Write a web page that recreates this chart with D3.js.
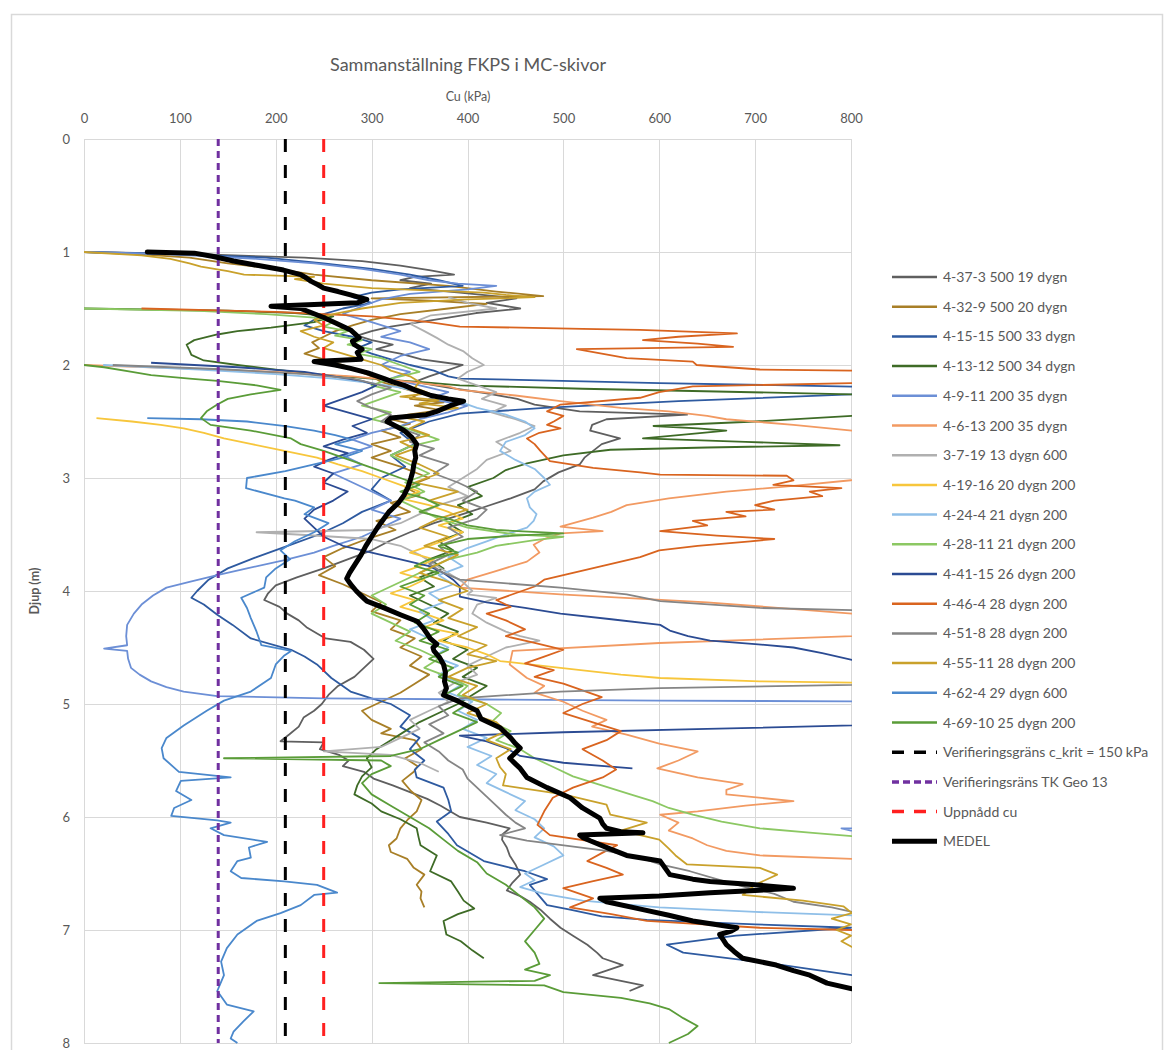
<!DOCTYPE html>
<html>
<head>
<meta charset="utf-8">
<script src="https://cdn.jsdelivr.net/npm/d3@7"></script>
<style>
  body { margin: 0; background: #fff; }
  svg { display: block; }
  text { font-family: Lato, "Open Sans", sans-serif; fill: #595959; }
</style>
</head>
<body>
<svg id="chart" width="1168" height="1050"></svg>
<script>
// ---- Axis ticks ----
const cuTicks = [0, 100, 200, 300, 400, 500, 600, 700, 800];
const depthTicks = [0, 1, 2, 3, 4, 5, 6, 7, 8];

// ---- FKPS soundings: [depth (m), Cu (kPa)] ----
const s4_37_3 = [[1.00,0],[1.02,120],[1.05,230],[1.08,290],[1.12,330],[1.16,360],[1.20,386],[1.22,345],[1.25,330],[1.28,362],[1.32,340],[1.36,392],[1.41,451],[1.45,420],[1.50,455],[1.54,409],[1.58,380],[1.62,350],[1.66,320],[1.70,300],[1.74,285],[1.78,300],[1.82,322],[1.86,305],[1.90,330],[1.95,352],[2.00,395],[2.05,378],[2.10,360],[2.15,345],[2.20,380],[2.25,420],[2.30,452],[2.35,470],[2.41,517],[2.44,629],[2.48,545],[2.53,530],[2.58,528],[2.65,559],[2.70,540],[2.76,531],[2.82,522],[2.88,517],[2.95,495],[3.03,479],[3.10,470],[3.18,445],[3.25,420],[3.32,395],[3.40,365],[3.48,340],[3.56,318],[3.64,300],[3.72,275],[3.80,250],[3.88,222],[3.95,200],[4.02,192],[4.08,188],[4.14,204],[4.20,212],[4.26,224],[4.32,232],[4.38,244],[4.42,252],[4.45,278],[4.52,292],[4.60,302],[4.68,292],[4.76,282],[4.84,265],[4.92,255],[5.00,248],[5.06,240],[5.12,229],[5.20,224],[5.27,214],[5.33,205],[5.34,250],[5.40,246],[5.45,266],[5.50,276],[5.55,270],[5.60,292],[5.66,302],[5.72,322],[5.78,340],[5.84,358],[5.90,372],[5.96,384],[6.00,392],[6.05,420],[6.10,444],[6.15,437],[6.20,436],[6.27,441],[6.34,444],[6.42,450],[6.51,455],[6.58,447],[6.65,441],[6.70,455],[6.75,465],[6.82,476],[6.90,486],[6.98,497],[7.05,510],[7.13,525],[7.20,535],[7.25,541],[7.31,562],[7.36,545],[7.40,531],[7.45,560],[7.49,583],[7.54,569]];

const s4_32_9 = [[1.00,0],[1.02,60],[1.05,110],[1.10,150],[1.15,200],[1.20,240],[1.25,300],[1.30,380],[1.35,430],[1.39,479],[1.41,300],[1.43,360],[1.46,420],[1.50,380],[1.55,330],[1.60,300],[1.65,280],[1.70,262],[1.75,250],[1.80,238],[1.85,245],[1.90,230],[1.95,250],[2.00,270],[2.05,285],[2.10,300],[2.15,310],[2.20,330],[2.25,350],[2.30,340],[2.33,375],[2.36,345],[2.40,372],[2.44,338],[2.48,320],[2.52,340],[2.58,310],[2.64,330],[2.70,300],[2.76,320],[2.82,300],[2.90,330],[3.00,360],[3.08,335],[3.15,350],[3.22,320],[3.30,340],[3.38,305],[3.46,325],[3.54,295],[3.62,270],[3.70,250],[3.78,262],[3.86,245],[3.94,270],[4.02,290],[4.10,310],[4.18,300],[4.26,330],[4.34,320],[4.42,345],[4.50,330],[4.58,352],[4.66,340],[4.74,360],[4.82,345],[4.90,330],[4.98,310],[5.06,290],[5.14,300],[5.22,320],[5.26,310],[5.32,345],[5.40,352],[5.48,335],[5.55,348],[5.60,344],[5.68,332],[5.77,341],[5.85,352],[5.95,347],[6.02,338],[6.10,330],[6.19,326],[6.25,318],[6.31,320],[6.37,337],[6.45,344],[6.51,355],[6.60,347],[6.66,352],[6.72,351],[6.80,355]];

const s4_15_15 = [[1.00,0],[1.02,100],[1.05,190],[1.10,250],[1.15,300],[1.20,340],[1.25,370],[1.30,395],[1.33,330],[1.36,300],[1.40,280],[1.45,300],[1.50,270],[1.55,250],[1.60,240],[1.65,230],[1.70,250],[1.75,280],[1.80,300],[1.85,285],[1.90,300],[1.95,320],[2.00,340],[2.05,365],[2.10,380],[2.12,392],[2.16,600],[2.20,860],[2.26,800],[2.32,620],[2.38,480],[2.43,392],[2.50,360],[2.60,330],[2.70,345],[2.80,320],[2.90,335],[3.00,310],[3.10,300],[3.20,320],[3.30,290],[3.40,270],[3.50,245],[3.59,216],[3.70,180],[3.80,150],[3.90,130],[4.00,118],[4.06,112],[4.12,125],[4.21,139],[4.30,155],[4.42,174],[4.52,216],[4.58,230],[4.65,243],[4.77,258],[4.89,278],[4.95,300],[5.00,320],[5.10,340],[5.20,330],[5.30,350],[5.40,340],[5.50,355],[5.58,345],[5.65,347],[5.74,375],[5.85,380],[5.95,383],[6.04,368],[6.15,380],[6.25,389],[6.39,417],[6.44,440],[6.48,460],[6.55,483],[6.60,465],[6.70,475],[6.78,483],[6.82,507],[6.88,540],[6.91,587],[6.95,700],[6.98,800],[7.05,680],[7.13,608],[7.20,625],[7.30,720],[7.40,801],[7.45,860]];

const s4_13_12 = [[1.50,0],[1.52,150],[1.54,220],[1.57,260],[1.62,240],[1.67,195],[1.70,160],[1.73,139],[1.78,115],[1.82,107],[1.87,110],[1.91,112],[1.96,125],[2.00,160],[2.04,200],[2.08,240],[2.12,300],[2.15,350],[2.18,392],[2.21,520],[2.23,635],[2.26,801],[2.30,880],[2.42,880],[2.45,801],[2.50,700],[2.54,594],[2.56,640],[2.58,670],[2.62,620],[2.65,583],[2.68,690],[2.71,788],[2.73,650],[2.75,549],[2.80,500],[2.87,462],[2.93,440],[3.00,427],[3.08,400],[3.16,415],[3.24,390],[3.32,405],[3.40,380],[3.48,395],[3.56,370],[3.64,385],[3.72,360],[3.80,375],[3.88,350],[3.96,365],[4.04,340],[4.12,360],[4.20,380],[4.28,365],[4.36,390],[4.44,375],[4.52,400],[4.60,385],[4.68,410],[4.76,395],[4.84,420],[4.92,405],[5.00,390],[5.08,370],[5.16,350],[5.24,335],[5.32,320],[5.40,305],[5.48,295],[5.56,300],[5.64,290],[5.72,285],[5.80,282],[5.88,300],[5.95,310],[6.02,330],[6.10,347],[6.18,349],[6.25,351],[6.34,368],[6.48,361],[6.57,383],[6.66,390],[6.74,396],[6.81,407],[6.86,390],[6.92,375],[7.04,378],[7.10,393],[7.18,405],[7.25,417]];

const s4_9_11 = [[1.00,0],[1.02,90],[1.06,180],[1.10,240],[1.15,290],[1.20,330],[1.25,360],[1.28,390],[1.30,430],[1.33,400],[1.37,340],[1.42,310],[1.48,290],[1.55,270],[1.62,300],[1.70,330],[1.75,310],[1.80,340],[1.86,360],[1.92,330],[2.00,310],[2.06,340],[2.12,320],[2.18,350],[2.24,380],[2.30,360],[2.36,400],[2.42,380],[2.48,350],[2.54,330],[2.60,300],[2.66,280],[2.72,300],[2.80,270],[2.88,290],[2.96,260],[3.04,280],[3.12,300],[3.20,320],[3.28,300],[3.36,330],[3.44,310],[3.52,290],[3.60,260],[3.66,240],[3.73,208],[3.80,170],[3.86,139],[3.92,110],[3.97,86],[4.04,72],[4.12,60],[4.20,52],[4.30,45],[4.40,44],[4.48,45],[4.51,21],[4.53,45],[4.60,46],[4.68,49],[4.74,58],[4.80,70],[4.85,86],[4.89,104],[4.93,139],[4.95,250],[4.96,417],[4.97,600],[4.98,900],[6.08,900],[6.10,790],[6.12,800],[6.14,900]];

const s4_6_13 = [[2.00,0],[2.03,100],[2.06,200],[2.10,280],[2.15,340],[2.19,380],[2.22,392],[2.27,450],[2.32,497],[2.38,560],[2.41,610],[2.45,650],[2.48,670],[2.53,740],[2.58,801],[2.62,880],[2.98,880],[3.02,800],[3.07,740],[3.12,670],[3.18,610],[3.24,566],[3.30,550],[3.35,531],[3.43,497],[3.47,541],[3.49,497],[3.54,480],[3.59,469],[3.66,475],[3.74,462],[3.83,427],[3.90,400],[3.97,392],[4.03,497],[4.10,650],[4.20,801],[4.25,880],[4.36,880],[4.40,801],[4.46,600],[4.53,447],[4.65,444],[4.77,462],[4.84,480],[4.90,470],[4.98,500],[5.06,520],[5.14,545],[5.20,530],[5.27,566],[5.35,600],[5.42,640],[5.50,620],[5.57,598],[5.65,640],[5.71,687],[5.76,670],[5.80,670],[5.86,740],[5.90,690],[5.95,640],[5.98,601],[6.05,620],[6.12,610],[6.19,635],[6.25,650],[6.30,670],[6.34,705],[6.37,801],[6.40,880]];

const s3_7_19 = [[1.40,380],[1.45,400],[1.50,430],[1.56,362],[1.60,350],[1.64,341],[1.70,355],[1.76,368],[1.82,380],[1.88,396],[1.94,405],[2.00,417],[2.06,400],[2.12,390],[2.18,410],[2.24,430],[2.30,415],[2.36,440],[2.42,425],[2.48,450],[2.54,470],[2.60,455],[2.68,430],[2.76,445],[2.84,420],[2.92,410],[3.00,395],[3.08,380],[3.16,400],[3.24,370],[3.32,350],[3.40,330],[3.46,300],[3.48,180],[3.50,222],[3.54,300],[3.60,330],[3.68,350],[3.76,365],[3.84,380],[3.92,395],[4.00,405],[4.03,400],[4.06,430],[4.12,410],[4.20,405],[4.28,420],[4.36,440],[4.40,455],[4.44,475],[4.50,440],[4.58,420],[4.66,400],[4.74,410],[4.82,385],[4.90,370],[4.98,380],[5.06,360],[5.14,340],[5.22,350],[5.30,330],[5.38,310],[5.42,250],[5.45,320],[5.52,350],[5.60,370]];

const s4_19_16 = [[2.47,13],[2.50,50],[2.53,80],[2.56,104],[2.60,125],[2.65,146],[2.70,175],[2.76,209],[2.82,243],[2.88,265],[2.94,290],[3.00,310],[3.06,330],[3.12,350],[3.18,330],[3.24,360],[3.30,380],[3.36,395],[3.42,370],[3.48,395],[3.54,380],[3.60,360],[3.66,340],[3.72,365],[3.78,350],[3.84,330],[3.90,355],[3.96,340],[4.02,320],[4.08,345],[4.14,330],[4.20,355],[4.26,375],[4.32,355],[4.38,390],[4.44,370],[4.50,400],[4.56,420],[4.62,434],[4.68,497],[4.74,560],[4.77,601],[4.80,705],[4.81,801],[4.83,900]];

const s4_24_4 = [[2.00,20],[2.04,120],[2.08,200],[2.12,260],[2.16,300],[2.20,330],[2.26,360],[2.32,390],[2.38,410],[2.44,440],[2.50,460],[2.56,470],[2.62,460],[2.68,440],[2.76,434],[2.84,450],[2.92,470],[3.00,480],[3.06,486],[3.12,470],[3.18,462],[3.26,465],[3.32,472],[3.38,469],[3.44,462],[3.50,440],[3.56,420],[3.62,400],[3.70,380],[3.78,395],[3.86,370],[3.94,385],[4.02,360],[4.10,375],[4.18,350],[4.26,365],[4.34,340],[4.42,360],[4.50,380],[4.58,365],[4.66,390],[4.74,370],[4.82,395],[4.90,380],[4.98,405],[5.06,390],[5.14,410],[5.22,395],[5.30,420],[5.38,400],[5.46,425],[5.54,410],[5.62,430],[5.70,420],[5.78,440],[5.86,460],[5.94,450],[6.02,470],[6.10,480],[6.18,470],[6.26,490],[6.34,500],[6.42,480],[6.50,460],[6.56,470],[6.62,455],[6.68,480],[6.74,520],[6.80,600],[6.84,700],[6.87,801],[6.90,880]];

const s4_28_11 = [[1.50,0],[1.52,120],[1.55,190],[1.58,240],[1.62,260],[1.66,250],[1.70,275],[1.74,262],[1.78,290],[1.82,275],[1.86,300],[1.90,285],[1.94,310],[2.00,330],[2.06,350],[2.12,320],[2.18,300],[2.24,330],[2.30,310],[2.36,290],[2.42,320],[2.48,300],[2.54,330],[2.60,350],[2.66,370],[2.72,340],[2.80,320],[2.88,340],[2.96,360],[3.04,335],[3.12,355],[3.20,330],[3.28,350],[3.36,370],[3.44,400],[3.50,450],[3.52,500],[3.55,470],[3.60,430],[3.66,410],[3.72,380],[3.80,360],[3.88,340],[3.96,320],[4.04,300],[4.12,315],[4.20,300],[4.28,320],[4.36,340],[4.44,325],[4.52,350],[4.60,370],[4.68,355],[4.76,380],[4.84,400],[4.92,390],[5.00,420],[5.08,435],[5.16,425],[5.24,445],[5.32,430],[5.40,455],[5.48,470],[5.56,490],[5.64,510],[5.72,540],[5.80,570],[5.86,593],[5.92,610],[5.98,635],[6.04,665],[6.10,705],[6.14,760],[6.17,801],[6.20,880]];

const s4_41_15 = [[1.98,70],[2.02,160],[2.06,230],[2.10,260],[2.14,290],[2.18,305],[2.24,290],[2.30,270],[2.36,250],[2.42,275],[2.48,300],[2.54,280],[2.60,295],[2.66,270],[2.72,250],[2.78,275],[2.84,255],[2.90,240],[2.96,260],[3.04,250],[3.12,275],[3.20,260],[3.28,240],[3.36,230],[3.44,240],[3.52,250],[3.60,270],[3.66,300],[3.72,330],[3.78,360],[3.84,375],[3.90,385],[3.96,392],[4.05,392],[4.10,420],[4.15,460],[4.20,497],[4.25,550],[4.30,601],[4.35,611],[4.40,630],[4.44,653],[4.47,700],[4.50,740],[4.55,770],[4.61,801],[4.65,880],[5.15,880],[5.19,801],[5.22,650],[5.25,500],[5.28,392],[5.33,420],[5.39,440],[5.46,455],[5.52,500],[5.57,572]];

const s4_46_4 = [[1.50,60],[1.53,200],[1.57,300],[1.62,360],[1.66,392],[1.68,520],[1.69,580],[1.72,681],[1.75,620],[1.78,583],[1.81,640],[1.84,677],[1.86,514],[1.90,540],[1.94,566],[1.97,635],[2.00,639],[2.04,705],[2.05,801],[2.08,880],[2.14,880],[2.16,801],[2.19,635],[2.24,600],[2.29,580],[2.35,497],[2.41,483],[2.45,500],[2.50,490],[2.53,483],[2.56,497],[2.60,475],[2.65,462],[2.70,470],[2.76,476],[2.85,486],[2.91,531],[2.95,580],[2.97,601],[2.98,733],[3.02,740],[3.06,719],[3.09,790],[3.12,757],[3.16,770],[3.20,720],[3.24,700],[3.28,720],[3.30,670],[3.34,690],[3.38,635],[3.42,650],[3.47,601],[3.51,660],[3.54,720],[3.56,695],[3.60,640],[3.64,600],[3.70,580],[3.78,540],[3.84,510],[3.90,480],[3.96,470],[4.02,450],[4.08,430],[4.14,445],[4.20,420],[4.26,440],[4.34,460],[4.40,440],[4.46,470],[4.52,500],[4.58,480],[4.64,460],[4.70,490],[4.76,470],[4.82,500],[4.88,520],[4.94,540],[5.00,520],[5.08,500],[5.16,530],[5.24,560],[5.32,545],[5.40,520],[5.50,541],[5.58,555],[5.65,541],[5.74,510],[5.83,489],[5.95,480],[6.07,473],[6.16,486],[6.25,556],[6.32,540],[6.39,525],[6.45,545],[6.51,562],[6.57,530],[6.63,500],[6.72,531],[6.80,507],[6.86,550],[6.92,587],[6.98,705],[7.00,801],[7.03,880]];

const s4_51_8 = [[2.00,30],[2.04,150],[2.08,230],[2.12,280],[2.16,300],[2.20,320],[2.26,300],[2.32,285],[2.38,300],[2.44,320],[2.50,310],[2.56,330],[2.62,350],[2.68,340],[2.74,365],[2.80,350],[2.88,380],[2.96,365],[3.04,390],[3.12,410],[3.20,395],[3.28,420],[3.36,410],[3.44,380],[3.52,395],[3.60,370],[3.68,380],[3.76,360],[3.84,375],[3.90,392],[3.97,497],[4.03,566],[4.09,601],[4.15,705],[4.17,801],[4.20,880],[4.80,880],[4.83,801],[4.86,601],[4.89,497],[4.95,392],[5.02,370],[5.10,380],[5.18,360],[5.26,375],[5.34,355],[5.42,370],[5.50,380],[5.58,395],[5.66,400],[5.74,410],[5.82,420],[5.90,430],[5.98,440],[6.05,450],[6.10,460],[6.16,434],[6.21,462],[6.30,545],[6.36,580],[6.42,601],[6.48,632],[6.55,660],[6.62,690],[6.68,720],[6.75,740],[6.80,780],[6.84,801],[6.88,880]];

const s4_55_11 = [[1.00,0],[1.03,60],[1.06,90],[1.10,110],[1.13,122],[1.17,150],[1.20,167],[1.22,240],[1.24,220],[1.28,250],[1.32,300],[1.36,417],[1.38,440],[1.40,470],[1.42,400],[1.45,330],[1.50,290],[1.55,260],[1.60,240],[1.65,250],[1.70,226],[1.75,240],[1.80,260],[1.85,250],[1.90,270],[1.95,290],[2.00,310],[2.05,320],[2.10,340],[2.15,350],[2.20,345],[2.25,360],[2.28,330],[2.31,370],[2.34,350],[2.38,390],[2.42,360],[2.46,330],[2.50,355],[2.56,340],[2.62,360],[2.68,330],[2.74,345],[2.80,325],[2.88,350],[2.96,370],[3.04,345],[3.12,390],[3.20,360],[3.28,400],[3.36,370],[3.44,350],[3.52,380],[3.60,355],[3.68,390],[3.76,370],[3.84,350],[3.92,380],[4.00,400],[4.08,370],[4.16,395],[4.24,380],[4.32,410],[4.40,390],[4.48,420],[4.56,400],[4.62,430],[4.68,400],[4.76,380],[4.84,410],[4.92,395],[5.00,420],[5.08,400],[5.16,430],[5.24,440],[5.32,420],[5.40,445],[5.48,430],[5.56,434],[5.62,440],[5.72,437],[5.80,500],[5.89,545],[5.98,549],[6.05,587],[6.12,560],[6.20,600],[6.28,610],[6.34,617],[6.42,629],[6.45,705],[6.51,723],[6.60,700],[6.69,687],[6.74,750],[6.79,792],[6.85,801],[6.90,780],[6.95,800],[7.00,785],[7.05,800],[7.10,790],[7.15,801],[7.20,870]];

const s4_62_4 = [[2.47,66],[2.48,122],[2.50,170],[2.54,210],[2.58,240],[2.62,262],[2.66,280],[2.70,262],[2.76,290],[2.82,270],[2.88,240],[2.94,210],[3.00,170],[3.09,169],[3.18,209],[3.20,220],[3.26,240],[3.32,230],[3.40,255],[3.48,240],[3.56,220],[3.64,205],[3.72,215],[3.80,200],[3.88,190],[3.97,188],[4.06,164],[4.15,170],[4.24,174],[4.36,180],[4.48,185],[4.53,216],[4.57,209],[4.65,200],[4.77,195],[4.89,174],[4.97,146],[5.06,128],[5.19,104],[5.30,86],[5.39,81],[5.48,83],[5.60,99],[5.65,153],[5.68,101],[5.77,96],[5.85,112],[5.92,94],[5.99,91],[6.03,139],[6.05,153],[6.10,132],[6.16,146],[6.22,191],[6.27,172],[6.36,174],[6.39,160],[6.48,153],[6.54,164],[6.57,209],[6.60,243],[6.67,264],[6.69,240],[6.78,226],[6.85,205],[6.92,180],[7.04,160],[7.16,149],[7.28,143],[7.40,146],[7.54,139],[7.66,149],[7.72,177],[7.81,166],[7.90,156],[7.96,153],[8.00,160]];

const s4_69_10 = [[2.00,0],[2.02,21],[2.06,50],[2.09,70],[2.12,110],[2.14,139],[2.16,160],[2.18,180],[2.22,205],[2.26,174],[2.30,150],[2.35,139],[2.41,128],[2.47,122],[2.53,132],[2.58,174],[2.65,216],[2.70,226],[2.76,250],[2.82,270],[2.88,290],[2.94,310],[3.00,330],[3.06,350],[3.12,330],[3.18,355],[3.24,370],[3.30,350],[3.36,380],[3.42,400],[3.46,430],[3.49,500],[3.51,450],[3.54,400],[3.60,370],[3.66,390],[3.72,360],[3.78,345],[3.84,370],[3.90,350],[3.96,330],[4.04,355],[4.12,340],[4.20,360],[4.28,345],[4.36,370],[4.44,350],[4.52,380],[4.60,360],[4.68,385],[4.76,370],[4.84,395],[4.92,375],[5.00,400],[5.08,385],[5.16,410],[5.24,390],[5.32,370],[5.40,350],[5.46,320],[5.48,146],[5.50,310],[5.55,320],[5.62,300],[5.70,290],[5.80,300],[5.90,320],[6.00,340],[6.10,360],[6.20,375],[6.30,390],[6.40,410],[6.50,420],[6.60,440],[6.70,455],[6.80,470],[6.90,480],[7.00,470],[7.10,460],[7.20,470],[7.30,475],[7.35,460],[7.40,486],[7.45,470],[7.47,308],[7.49,480],[7.55,500],[7.60,560],[7.65,590],[7.70,610],[7.78,625],[7.85,640],[7.92,630],[7.96,620],[8.00,610]];

// mean profile (MEDEL)
const medel = [[1.00,66],[1.01,115],[1.04,135],[1.08,156],[1.12,182],[1.16,208],[1.20,226],[1.23,232],[1.26,237],[1.29,244],[1.32,250],[1.35,265],[1.38,278],[1.42,295],[1.45,285],[1.48,195],[1.50,226],[1.54,238],[1.58,250],[1.63,263],[1.69,278],[1.72,282],[1.76,287],[1.79,280],[1.82,282],[1.86,290],[1.89,285],[1.95,289],[1.97,240],[2.00,262],[2.03,278],[2.07,296],[2.12,313],[2.15,322],[2.18,334],[2.22,345],[2.27,362],[2.30,380],[2.32,396],[2.36,382],[2.41,368],[2.44,357],[2.47,320],[2.50,316],[2.54,325],[2.58,334],[2.64,342],[2.70,347],[2.76,345],[2.82,346],[2.88,344],[2.94,343],[3.00,341],[3.08,338],[3.15,334],[3.22,328],[3.30,318],[3.37,312],[3.44,306],[3.52,300],[3.60,294],[3.68,289],[3.76,283],[3.84,277],[3.89,274],[3.94,278],[4.00,284],[4.05,290],[4.09,295],[4.15,313],[4.21,330],[4.27,348],[4.33,354],[4.38,358],[4.42,361],[4.47,368],[4.50,364],[4.53,365],[4.59,371],[4.65,375],[4.72,377],[4.80,376],[4.86,378],[4.92,375],[4.97,389],[5.01,398],[5.06,410],[5.13,414],[5.21,434],[5.30,445],[5.35,450],[5.39,455],[5.44,449],[5.48,444],[5.53,450],[5.57,455],[5.65,462],[5.74,483],[5.83,507],[5.92,520],[6.01,538],[6.06,541],[6.10,545],[6.13,560],[6.14,583],[6.16,517],[6.18,520],[6.21,528],[6.28,548],[6.34,566],[6.39,601],[6.45,606],[6.51,611],[6.55,635],[6.57,653],[6.60,700],[6.63,740],[6.65,700],[6.67,653],[6.70,600],[6.72,538],[6.75,545],[6.82,583],[6.87,610],[6.92,635],[6.98,681],[7.01,675],[7.04,663],[7.09,667],[7.13,670],[7.19,678],[7.25,687],[7.31,722],[7.36,740],[7.40,757],[7.47,775],[7.52,801]];

// reference levels (kPa)
const cKrit = 150;              // critical shear strength
const cKritFactor = 1.4;        // verification level = 1.4 x c_krit
const tkGeo13 = 140;            // TK Geo 13 verification level
const uppnaddCu = 250;          // achieved cu

const seriesNames = ["4-37-3 500 19 dygn","4-32-9 500 20 dygn","4-15-15 500 33 dygn","4-13-12 500 34 dygn","4-9-11 200 35 dygn","4-6-13 200 35 dygn","3-7-19 13 dygn 600","4-19-16 20 dygn 200","4-24-4 21 dygn 200","4-28-11 21 dygn 200","4-41-15 26 dygn 200","4-46-4 28 dygn 200","4-51-8 28 dygn 200","4-55-11 28 dygn 200","4-62-4 29 dygn 600","4-69-10 25 dygn 200"];
const seriesData = [s4_37_3, s4_32_9, s4_15_15, s4_13_12, s4_9_11, s4_6_13, s3_7_19, s4_19_16, s4_24_4, s4_28_11, s4_41_15, s4_46_4, s4_51_8, s4_55_11, s4_62_4, s4_69_10];
const seriesColors = ["#5f5f5f","#a87f27","#2e5aa0","#3e6b26","#6c8fd6","#f29a62","#b0b0b0","#f7c63c","#8fbfe8","#8cc863","#2b4b93","#d9641f","#858585","#c9a12b","#4a88cc","#5a9c38"];

// ---- Drawing ----
const svg = d3.select("#chart");
const W = 1168, H = 1050;
const plot = { left: 84, right: 851, top: 139, bottom: 1043 };

const x = d3.scaleLinear().domain([0, 800]).range([plot.left, plot.right]);
const y = d3.scaleLinear().domain([0, 8]).range([plot.top, plot.bottom]);

svg.append("rect").attr("width", W).attr("height", H).attr("fill", "#fff");
// chart frame
svg.append("rect").attr("x", 11.5).attr("y", 14.5).attr("width", 1151).attr("height", 1060)
  .attr("fill", "none").attr("stroke", "#d9d9d9").attr("stroke-width", 1.5);

// title and axis titles
svg.append("text").attr("x", 468).attr("y", 71).attr("text-anchor", "middle")
  .style("font-size", "18px").text("Sammanställning FKPS i MC-skivor");
svg.append("text").attr("x", 468).attr("y", 101).attr("text-anchor", "middle")
  .style("font-size", "12.5px").text("Cu (kPa)");
svg.append("text").attr("transform", `translate(39,${y(4)}) rotate(-90)`).attr("text-anchor", "middle")
  .style("font-size", "12.5px").style("font-weight", "bold").text("Djup (m)");

// gridlines
const grid = svg.append("g").attr("stroke", "#d9d9d9").attr("stroke-width", 1);
grid.selectAll(".vx").data(cuTicks).join("line")
  .attr("x1", d => Math.round(x(d)) + 0.5).attr("x2", d => Math.round(x(d)) + 0.5)
  .attr("y1", plot.top).attr("y2", plot.bottom);
grid.selectAll(".hy").data(depthTicks).join("line")
  .attr("y1", d => Math.round(y(d)) + 0.5).attr("y2", d => Math.round(y(d)) + 0.5)
  .attr("x1", plot.left).attr("x2", plot.right);

// axes (labels only)
const xAxis = d3.axisTop(x).tickValues(cuTicks).tickSize(0).tickPadding(16).tickFormat(d3.format("d"));
const gx = svg.append("g").attr("transform", `translate(0,${plot.top})`).call(xAxis);
const yAxis = d3.axisLeft(y).tickValues(depthTicks).tickSize(0).tickPadding(14).tickFormat(d3.format("d"));
const gy = svg.append("g").attr("transform", `translate(${plot.left},0)`).call(yAxis);
[gx, gy].forEach(g => {
  g.select(".domain").remove();
  g.selectAll("text").style("font-size", "13px").style("font-family", "Lato, 'Open Sans', sans-serif").attr("fill", "#595959");
});

// clip
svg.append("clipPath").attr("id", "plotclip").append("rect")
  .attr("x", plot.left).attr("y", plot.top - 2).attr("width", plot.right - plot.left + 1).attr("height", plot.bottom - plot.top + 4);

const line = d3.line().x(d => x(d[1])).y(d => y(d[0]));
const lines = svg.append("g").attr("clip-path", "url(#plotclip)");

seriesData.forEach((data, i) => {
  lines.append("path").datum(data).attr("d", line)
    .attr("fill", "none").attr("stroke", seriesColors[i]).attr("stroke-width", 1.8)
    .attr("stroke-linejoin", "round");
});

// vertical reference levels
const refs = [
  { v: cKrit * cKritFactor, color: "#000000", dash: "13,13", w: 3 },
  { v: tkGeo13, color: "#7030a0", dash: "7,5", w: 3 },
  { v: uppnaddCu, color: "#ff2020", dash: "13,13", w: 3 }
];
refs.forEach(r => {
  lines.append("line").attr("x1", x(r.v)).attr("x2", x(r.v)).attr("y1", y(0)).attr("y2", y(8))
    .attr("stroke", r.color).attr("stroke-width", r.w).attr("stroke-dasharray", r.dash);
});

// mean
lines.append("path").datum(medel).attr("d", line)
  .attr("fill", "none").attr("stroke", "#000").attr("stroke-width", 5)
  .attr("stroke-linejoin", "round").attr("stroke-linecap", "round");

// legend
const legendItems = seriesNames.map((n, i) => ({ name: n, color: seriesColors[i], w: 2.5, dash: null }))
  .concat([
    { name: "Verifieringsgräns c_krit = " + cKrit + " kPa", color: "#000", w: 3.5, dash: "12,10" },
    { name: "Verifieringsräns TK Geo 13", color: "#7030a0", w: 3.5, dash: "7,4" },
    { name: "Uppnådd cu", color: "#ff2020", w: 3.5, dash: "12,10" },
    { name: "MEDEL", color: "#000", w: 5, dash: null }
  ]);
const lg = svg.append("g").attr("transform", "translate(892,277)");
const rows = lg.selectAll("g").data(legendItems).join("g")
  .attr("transform", (d, i) => `translate(0,${i * 29.7})`);
rows.append("line").attr("x1", 0).attr("x2", 45).attr("y1", 0).attr("y2", 0)
  .attr("stroke", d => d.color).attr("stroke-width", d => d.w)
  .attr("stroke-dasharray", d => d.dash);
rows.append("text").attr("x", 51).attr("y", 5).style("font-size", "14px").text(d => d.name);
</script>
</body>
</html>
